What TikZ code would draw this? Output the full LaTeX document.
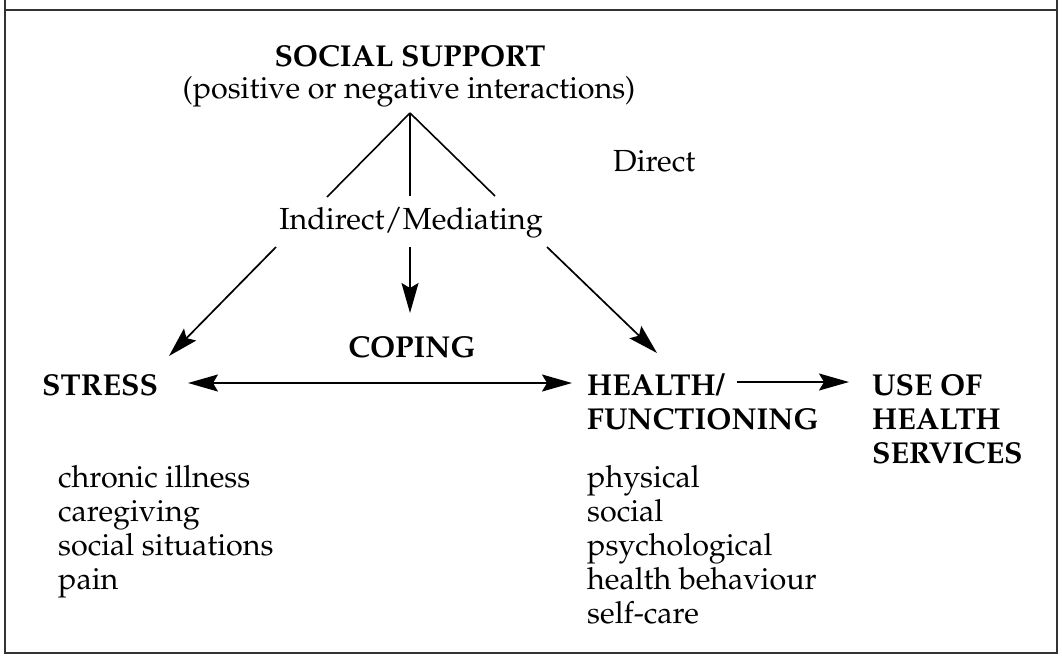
\documentclass[tikz,border=0pt]{standalone}
\usepackage[T1]{fontenc}
\usepackage{mathpazo}
\usetikzlibrary{arrows.meta}
\begin{document}
\begin{tikzpicture}[x=1pt,y=-1pt,
  txt/.style={inner sep=0pt,font=\fontsize{30.5}{34}\selectfont},
  hd/.style={txt,font=\fontsize{30.2}{34}\selectfont\bfseries},
  link/.style={line width=1.6pt},
  tip/.tip={Stealth[length=30pt,width=17pt,inset=5pt]},
  arr/.style={line width=1.7pt,-tip},
  frame/.style={line width=1.6pt,black!80}]
\useasboundingbox (0,0) rectangle (1062,656);
% frame
\draw[frame] (5,0) -- (5,653) -- (1057,653) -- (1057,0);
\draw[frame] (5,10) -- (1057,10);
% headings
\node[hd,anchor=base] (ss) at (410,66) {SOCIAL SUPPORT};
\node[txt,anchor=base] (sspar) at (409,98) {(positive or negative interactions)};
\node[txt,anchor=base west] (direct) at (613,171) {Direct};
\node[txt,anchor=base] (indirect) at (411,229) {Indirect/Mediating};
\node[hd,anchor=base] (coping) at (412,357) {COPING};
\node[hd,anchor=base west] (stress) at (42,395) {STRESS};
\node[hd,anchor=base west] (health) at (587,395) {HEALTH/};
\node[hd,anchor=base west] (func) at (587,429) {FUNCTIONING};
\node[hd,anchor=base west] (use) at (872,395) {USE OF};
\node[hd,anchor=base west] (use2) at (872,429) {HEALTH};
\node[hd,anchor=base west] (use3) at (872,463) {SERVICES};
% stress list
\node[txt,anchor=base west] (s1) at (58,487) {chronic illness};
\node[txt,anchor=base west] (s2) at (58,521) {caregiving};
\node[txt,anchor=base west] (s3) at (58,555) {social situations};
\node[txt,anchor=base west] (s4) at (58,589) {pain};
% health list
\node[txt,anchor=base west] (h1) at (587,487) {physical};
\node[txt,anchor=base west] (h2) at (587,521) {social};
\node[txt,anchor=base west] (h3) at (587,555) {psychological};
\node[txt,anchor=base west] (h4) at (587,589) {health behaviour};
\node[txt,anchor=base west] (h5) at (587,623) {self-care};
% connector ends
\coordinate (apex) at (410,113);
\coordinate (tl) at (327,197);
\coordinate (tm) at (410,196);
\coordinate (tr) at (495,196);
\coordinate (bl) at (276,247);
\coordinate (bm) at (410,247);
\coordinate (br) at (547,247);
\coordinate (stressTip) at (169,356);
\coordinate (copingTip) at (410,313);
\coordinate (healthTip) at (657,353);
\coordinate (dl) at (188,383);
\coordinate (dr) at (572,383);
\coordinate (ul) at (737,382);
\coordinate (ur) at (849,382);
% connectors
\draw[link] (apex) -- (tl);
\draw[link] (apex) -- (tm);
\draw[link] (apex) -- (tr);
\draw[arr] (bl) -- (stressTip);
\draw[arr] (bm) -- (copingTip);
\draw[arr] (br) -- (healthTip);
\draw[arr,tip-tip] (dl) -- (dr);
\draw[arr] (ul) -- (ur);
\end{tikzpicture}
\end{document}
